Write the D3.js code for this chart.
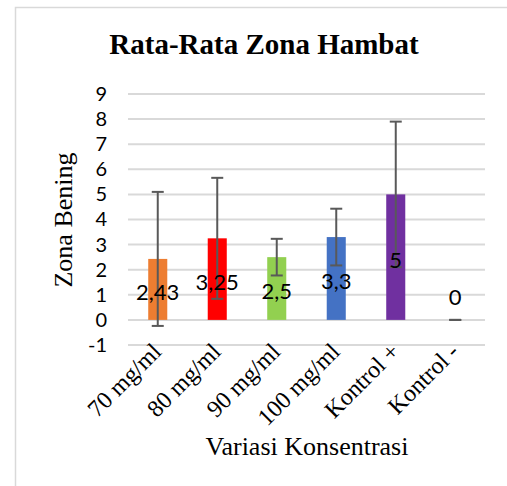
<!DOCTYPE html>
<html>
<head>
<meta charset="utf-8">
<script src="https://cdn.jsdelivr.net/npm/d3@7"></script>
<style>
  html, body { margin: 0; padding: 0; background: #fff; }
  svg { display: block; }
</style>
</head>
<body>
<div id="chart"></div>
<script>
// data
const categories = ["70 mg/ml", "80 mg/ml", "90 mg/ml", "100 mg/ml", "Kontrol +", "Kontrol -"];
const means = [2.43, 3.25, 2.5, 3.3, 5, 0];
const labels = ["2,43", "3,25", "2,5", "3,3", "5", "0"];
const errors = [2.67, 2.41, 0.73, 1.13, 2.9, 0];
const colors = ["#ED7D31", "#FF0000", "#92D050", "#4472C4", "#7030A0", "#A5A5A5"];
const yTicks = [-1, 0, 1, 2, 3, 4, 5, 6, 7, 8, 9];

const width = 507;
const height = 486;
const plotLeft = 128, plotRight = 485, plotTop = 94, plotBottom = 345;

const svg = d3.select("#chart")
  .append("svg")
  .attr("width", width)
  .attr("height", height);

// chart area border (runs off the right and bottom edges)
svg.append("rect")
  .attr("x", 15.5)
  .attr("y", 7.5)
  .attr("width", 600)
  .attr("height", 600)
  .attr("fill", "none")
  .attr("stroke", "#d9d9d9")
  .attr("stroke-width", 1.5);

const x = d3.scaleBand()
  .domain(categories)
  .range([plotLeft, plotRight])
  .paddingInner(0.68)
  .paddingOuter(0.34);

const y = d3.scaleLinear()
  .domain([-1, 9])
  .range([plotBottom, plotTop]);

// gridlines
svg.append("g")
  .selectAll("line")
  .data(yTicks)
  .enter()
  .append("line")
  .attr("x1", plotLeft)
  .attr("x2", plotRight)
  .attr("y1", (d) => y(d))
  .attr("y2", (d) => y(d))
  .attr("stroke", "#d9d9d9")
  .attr("stroke-width", 2);

// y axis tick labels (plain hyphen for negatives, like the original)
const yAxis = svg.append("g")
  .attr("transform", `translate(${plotLeft - 21},0)`)
  .call(d3.axisLeft(y).tickValues(yTicks).tickSize(0).tickPadding(0).tickFormat((d) => String(d)));
yAxis.select(".domain").remove();
yAxis.selectAll("text")
  .attr("fill", "#000")
  .style("font-family", "Lato, 'Open Sans', sans-serif")
  .style("font-size", "20px");

// bars
svg.append("g")
  .selectAll("rect")
  .data(categories)
  .enter()
  .append("rect")
  .attr("x", (d) => x(d))
  .attr("width", x.bandwidth())
  .attr("y", (d, i) => y(means[i]))
  .attr("height", (d, i) => y(0) - y(means[i]))
  .attr("fill", (d, i) => colors[i]);

// error bars
const cap = 6;
const err = svg.append("g")
  .attr("stroke", "#595959")
  .attr("stroke-width", 2)
  .selectAll("g")
  .data(categories)
  .enter()
  .append("g")
  .attr("transform", (d) => `translate(${x(d) + x.bandwidth() / 2},0)`);

err.append("line")
  .attr("y1", (d, i) => y(means[i] + errors[i]))
  .attr("y2", (d, i) => y(means[i] - errors[i]));
err.append("line")
  .attr("x1", -cap).attr("x2", cap)
  .attr("y1", (d, i) => y(means[i] + errors[i]))
  .attr("y2", (d, i) => y(means[i] + errors[i]));
err.append("line")
  .attr("x1", -cap).attr("x2", cap)
  .attr("y1", (d, i) => y(means[i] - errors[i]))
  .attr("y2", (d, i) => y(means[i] - errors[i]));

// value labels (centered in the bar, above the baseline for a zero bar)
svg.append("g")
  .selectAll("text")
  .data(categories)
  .enter()
  .append("text")
  .attr("x", (d) => x(d) + x.bandwidth() / 2)
  .attr("y", (d, i) => (means[i] > 0 ? y(means[i] / 2) : y(1)) + 2)
  .attr("text-anchor", "middle")
  .attr("dominant-baseline", "central")
  .style("font-family", "Lato, 'Open Sans', sans-serif")
  .style("font-size", "22px")
  .attr("fill", "#000")
  .text((d, i) => labels[i]);

// x axis labels, rotated
svg.append("g")
  .selectAll("text")
  .data(categories)
  .enter()
  .append("text")
  .attr("transform", (d) => `translate(${x(d) + x.bandwidth() / 2 + 5},${plotBottom + 8}) rotate(-45)`)
  .attr("text-anchor", "end")
  .style("font-family", "'Liberation Serif', 'Times New Roman', serif")
  .style("font-size", "24px")
  .attr("fill", "#000")
  .text((d) => d);

// title
svg.append("text")
  .attr("x", 264)
  .attr("y", 54)
  .attr("text-anchor", "middle")
  .style("font-family", "'Liberation Serif', 'Times New Roman', serif")
  .style("font-size", "29px")
  .style("font-weight", "bold")
  .text("Rata-Rata Zona Hambat");

// axis titles
svg.append("text")
  .attr("transform", `translate(72,220) rotate(-90)`)
  .attr("text-anchor", "middle")
  .style("font-family", "'Liberation Serif', 'Times New Roman', serif")
  .style("font-size", "26px")
  .text("Zona Bening");

svg.append("text")
  .attr("x", 307)
  .attr("y", 455)
  .attr("text-anchor", "middle")
  .style("font-family", "'Liberation Serif', 'Times New Roman', serif")
  .style("font-size", "26px")
  .text("Variasi Konsentrasi");
</script>
</body>
</html>
